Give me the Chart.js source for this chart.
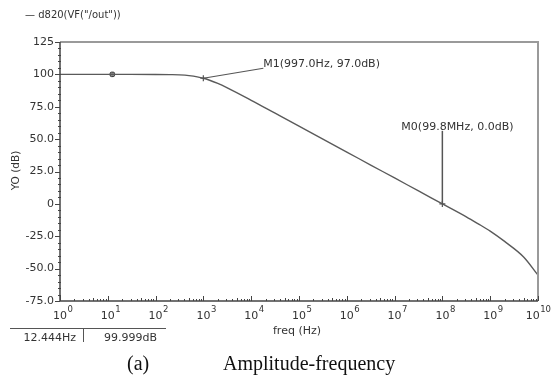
<!DOCTYPE html>
<html><head><meta charset="utf-8">
<script src="https://cdn.jsdelivr.net/npm/chart.js@4/dist/chart.umd.min.js"></script>
<style>
html,body{margin:0;padding:0;background:#fff;}
#wrap{position:relative;width:552px;height:379px;overflow:hidden;}
#c{position:absolute;left:0;top:0;}
.t{position:absolute;font-family:"DejaVu Sans",sans-serif;color:#333;white-space:nowrap;line-height:1;}
</style></head>
<body><div id="wrap">
<canvas id="c" width="552" height="379"></canvas>
<div class="t" style="left:25px;top:10px;font-size:10px;">&#8212; d820(VF("/out"))</div>
<div class="t" style="left:10px;width:66px;text-align:right;top:332px;font-size:11px;">12.444Hz</div>
<div class="t" style="left:90px;width:67px;text-align:right;top:332px;font-size:11px;">99.999dB</div>
<div style="position:absolute;left:10px;top:328px;width:156px;height:1px;background:#555;"></div>
<div style="position:absolute;left:83px;top:328px;width:1px;height:14px;background:#555;"></div>
<div class="t" style="left:247px;width:100px;text-align:center;top:325px;font-size:11px;">freq (Hz)</div>
<div class="t" style="left:127px;top:353px;font-size:20px;font-family:'Liberation Serif',serif;color:#111;">(a)</div>
<div class="t" style="left:223px;top:353px;font-size:20px;font-family:'Liberation Serif',serif;color:#111;">Amplitude-frequency</div>
</div>
<script>
// ---- data ----
const freqHz = [1, 3, 10, 30, 100, 200, 316, 500, 1000, 2000, 3162, 10000, 31623, 1e5, 3.162e5, 1e6, 3.162e6, 1e7, 3.162e7, 1e8, 3.162e8, 5.5e8, 1e9, 2e9, 5e9, 1e10];
const magDb  = [100, 100, 100, 100, 99.96, 99.8, 99.6, 99.0, 97.0, 93.0, 89.6, 80.0, 70.0, 60.0, 50.0, 40.0, 30.0, 20.0, 10.0, 0.0, -10.0, -15.2, -21.0, -29.0, -41.0, -55.0];
const yTicks = [-75, -50, -25, 0, 25, 50, 75, 100, 125];
const xDecades = [0, 1, 2, 3, 4, 5, 6, 7, 8, 9, 10];
const cursorHz = [12.444];
const cursorDb = [99.999];
const markerNames = ['M1(997.0Hz, 97.0dB)', 'M0(99.8MHz, 0.0dB)'];
const markerHz = [997, 99.8e6];
const markerDb = [97.0, 0.0];

const FONT = '"DejaVu Sans", sans-serif';
const markerStyle = [{mode:'diag', lx:60, ly:-10, ty:-14}, {mode:'vert', lx:-41, ly:-73, ty:-77}];

const decor = {
  id:'decor',
  afterDraw(chart){
    const ctx = chart.ctx, a = chart.chartArea, xs = chart.scales.x, ys = chart.scales.y;
    const W = chart.width;
    ctx.save();
    // frame top & right
    ctx.strokeStyle = '#9a9a9a'; ctx.lineWidth = 2;
    ctx.beginPath(); ctx.moveTo(a.left, a.top); ctx.lineTo(a.right, a.top); ctx.lineTo(a.right, a.bottom); ctx.stroke();
    // left & bottom axes
    ctx.strokeStyle = '#444'; ctx.lineWidth = 1.5;
    ctx.beginPath(); ctx.moveTo(a.left, a.top); ctx.lineTo(a.left, a.bottom); ctx.lineTo(a.right, a.bottom); ctx.stroke();
    ctx.lineWidth = 1;
    // y ticks
    for (let v = -75; v <= 125; v += 5) {
      const py = Math.round(ys.getPixelForValue(v)) + 0.5;
      const major = v % 25 === 0;
      ctx.beginPath(); ctx.moveTo(a.left - (major ? 5 : 2), py); ctx.lineTo(a.left + (major ? 0 : 1), py); ctx.stroke();
    }
    // x ticks (log minor)
    for (let d = 0; d < 10; d++) {
      for (let m = 1; m <= 10; m++) {
        const v = m * Math.pow(10, d);
        const px = Math.round(xs.getPixelForValue(v)) + 0.5;
        const len = (m === 1 || m === 10) ? 5 : (m === 5 ? 3 : 2);
        ctx.beginPath(); ctx.moveTo(px, a.bottom); ctx.lineTo(px, a.bottom - len); ctx.stroke();
      }
    }
    // x tick labels 10^n
    ctx.fillStyle = '#333'; ctx.textBaseline = 'middle';
    xDecades.forEach(n => {
      let px = xs.getPixelForValue(Math.pow(10, n));
      ctx.font = '11px ' + FONT;
      const w = ctx.measureText('10').width;
      ctx.font = '8.5px ' + FONT;
      const ew = ctx.measureText(String(n)).width;
      if (px + w / 2 + 0.5 + ew > W - 1) px = W - 1 - ew - 0.5 - w / 2;
      ctx.font = '11px ' + FONT; ctx.textAlign = 'center';
      ctx.fillText('10', px, a.bottom + 15);
      ctx.font = '8.5px ' + FONT; ctx.textAlign = 'left';
      ctx.fillText(String(n), px + w / 2 + 0.5, a.bottom + 9);
    });
    // markers
    ctx.strokeStyle = '#555';
    for (let i = 0; i < markerHz.length; i++) {
      const px = xs.getPixelForValue(markerHz[i]), py = ys.getPixelForValue(markerDb[i]);
      const st = markerStyle[i];
      ctx.lineWidth = 1.2;
      ctx.beginPath(); ctx.moveTo(px - 3, py); ctx.lineTo(px + 3, py); ctx.moveTo(px, py - 3); ctx.lineTo(px, py + 3); ctx.stroke();
      ctx.font = '11px ' + FONT; ctx.textBaseline = 'middle'; ctx.textAlign = 'left';
      if (st.mode === 'diag') {
        ctx.beginPath(); ctx.moveTo(px, py); ctx.lineTo(px + st.lx, py + st.ly); ctx.stroke();
      } else {
        ctx.lineWidth = 1.5;
        ctx.beginPath(); ctx.moveTo(px, py); ctx.lineTo(px, py + st.ly); ctx.stroke();
      }
      ctx.fillText(markerNames[i], px + st.lx, py + st.ty);
    }
    // y title
    ctx.save();
    ctx.translate(16, (a.top + a.bottom) / 2 - 1); ctx.rotate(-Math.PI / 2);
    ctx.font = '10.5px ' + FONT; ctx.textAlign = 'center'; ctx.textBaseline = 'middle'; ctx.fillStyle = '#333';
    ctx.fillText('YO (dB)', 0, 0);
    ctx.restore();
    ctx.restore();
  }
};

new Chart(document.getElementById('c'), {
  type: 'line',
  data: {
    datasets: [
      { data: freqHz.map((f, i) => ({x: f, y: magDb[i]})), borderColor: '#5a5a5a', borderWidth: 1.4, pointRadius: 0, tension: 0.2, cubicInterpolationMode: 'monotone' },
      { data: cursorHz.map((f, i) => ({x: f, y: cursorDb[i]})), showLine: false, pointStyle: 'rectRounded', pointRadius: 2.6, backgroundColor: '#888', borderColor: '#333', borderWidth: 1 }
    ]
  },
  options: {
    responsive: false, animation: false, devicePixelRatio: 1,
    layout: { padding: { left: 0, right: 14, top: 42, bottom: 58 } },
    plugins: { legend: { display: false }, tooltip: { enabled: false } },
    scales: {
      x: {
        type: 'logarithmic', min: 1, max: 1e10,
        grid: { display: false, drawTicks: false }, border: { display: false },
        afterFit: s => { s.height = 20; s.paddingLeft = 0; s.paddingRight = 0; },
        ticks: { display: false }
      },
      y: {
        type: 'linear', min: -75, max: 125,
        grid: { display: false, drawTicks: false }, border: { display: false },
        afterFit: s => { s.width = 60; },
        afterBuildTicks: s => { s.ticks = yTicks.map(v => ({value: v})); },
        ticks: {
          padding: 6, color: '#333', font: { family: FONT, size: 11 },
          callback: v => (v === 0 || Math.abs(v) >= 100) ? String(v) : v.toFixed(1)
        }
      }
    }
  },
  plugins: [decor]
});
</script>
</body></html>
